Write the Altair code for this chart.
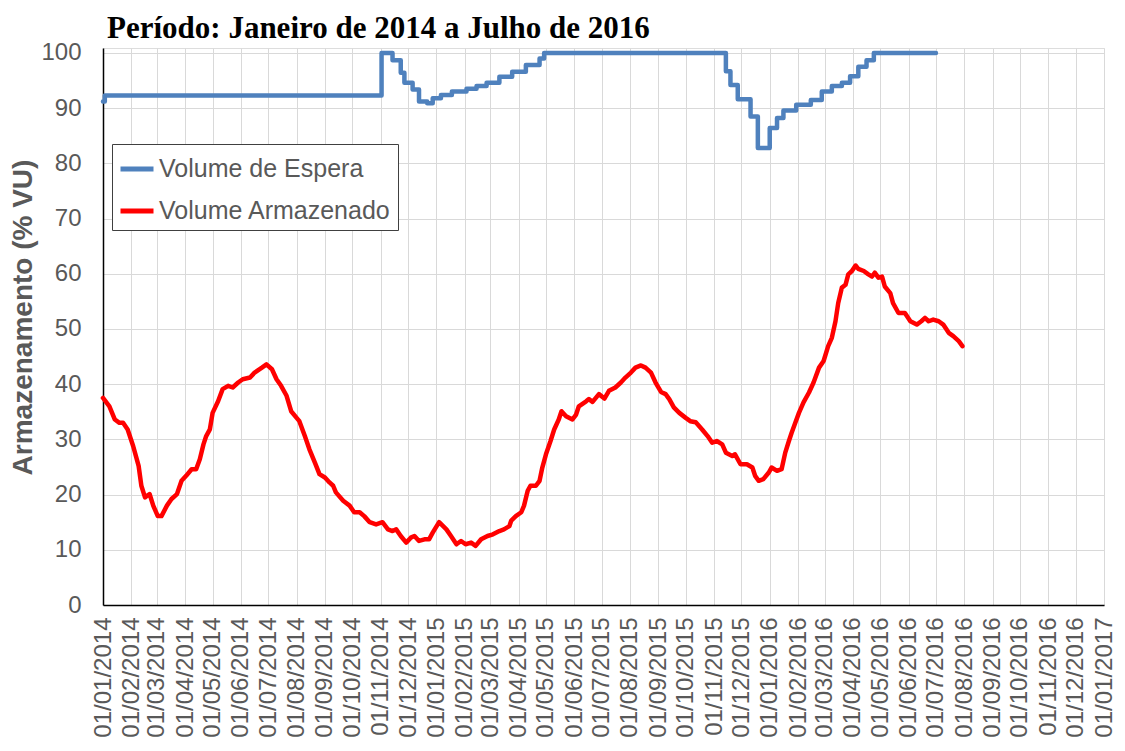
import altair as alt
import pandas as pd

# ---------------- data ----------------
espera_datas = [
    "2014-01-01", "2014-01-03", "2014-11-02", "2014-11-14", "2014-11-23", "2014-11-27",
    "2014-12-06", "2014-12-13", "2014-12-22", "2014-12-28", "2015-01-06", "2015-01-18",
    "2015-02-03", "2015-02-14", "2015-02-25", "2015-03-11", "2015-03-25", "2015-04-09",
    "2015-04-24", "2015-04-29", "2015-11-14", "2015-11-19", "2015-11-27", "2015-12-11",
    "2015-12-19", "2016-01-01", "2016-01-09", "2016-01-16", "2016-01-30", "2016-02-15",
    "2016-02-27", "2016-03-09", "2016-03-20", "2016-03-29", "2016-04-07", "2016-04-16",
    "2016-04-24", "2016-07-01",
]
espera_valores = [
    91.2, 92.3, 100.0, 98.7, 96.4, 94.6,
    93.4, 91.2, 90.9, 91.8, 92.4, 93.0,
    93.5, 94.0, 94.6, 95.7, 96.6, 97.8,
    99.0, 100.0, 96.7, 94.2, 91.6, 88.5,
    82.8, 86.4, 88.2, 89.6, 90.6, 91.5,
    93.0, 94.0, 94.6, 95.8, 97.5, 98.7,
    100.0, 100.0,
]

armaz_datas = [
    "2014-01-01", "2014-01-08", "2014-01-14", "2014-01-19", "2014-01-23", "2014-01-28",
    "2014-02-03", "2014-02-09", "2014-02-12", "2014-02-16", "2014-02-21", "2014-02-25",
    "2014-03-02", "2014-03-06", "2014-03-12", "2014-03-17", "2014-03-23", "2014-03-28",
    "2014-04-02", "2014-04-08", "2014-04-13", "2014-04-17", "2014-04-21", "2014-04-24",
    "2014-04-28", "2014-05-01", "2014-05-07", "2014-05-12", "2014-05-18", "2014-05-23",
    "2014-05-29", "2014-06-03", "2014-06-11", "2014-06-16", "2014-06-24", "2014-06-29",
    "2014-07-05", "2014-07-10", "2014-07-15", "2014-07-21", "2014-07-26", "2014-08-01",
    "2014-08-04", "2014-08-10", "2014-08-15", "2014-08-21", "2014-08-26", "2014-09-01",
    "2014-09-06", "2014-09-10", "2014-09-13", "2014-09-21", "2014-09-28", "2014-10-03",
    "2014-10-09", "2014-10-14", "2014-10-20", "2014-10-27", "2014-11-03", "2014-11-09",
    "2014-11-14", "2014-11-18", "2014-11-23", "2014-11-29", "2014-12-04", "2014-12-08",
    "2014-12-13", "2014-12-19", "2014-12-24", "2014-12-28", "2015-01-04", "2015-01-12",
    "2015-01-17", "2015-01-23", "2015-01-28", "2015-02-02", "2015-02-08", "2015-02-13",
    "2015-02-19", "2015-02-26", "2015-03-04", "2015-03-11", "2015-03-16", "2015-03-22",
    "2015-03-24", "2015-03-29", "2015-04-04", "2015-04-07", "2015-04-11", "2015-04-14",
    "2015-04-20", "2015-04-24", "2015-04-27", "2015-05-01", "2015-05-06", "2015-05-10",
    "2015-05-15", "2015-05-18", "2015-05-23", "2015-05-30", "2015-06-03", "2015-06-06",
    "2015-06-14", "2015-06-17", "2015-06-21", "2015-06-28", "2015-07-04", "2015-07-09",
    "2015-07-16", "2015-07-22", "2015-07-27", "2015-08-02", "2015-08-07", "2015-08-13",
    "2015-08-18", "2015-08-24", "2015-08-29", "2015-09-04", "2015-09-09", "2015-09-13",
    "2015-09-18", "2015-09-24", "2015-10-01", "2015-10-06", "2015-10-12", "2015-10-19",
    "2015-10-25", "2015-10-30", "2015-11-04", "2015-11-10", "2015-11-14", "2015-11-21",
    "2015-11-24", "2015-11-30", "2015-12-07", "2015-12-13", "2015-12-16", "2015-12-20",
    "2015-12-25", "2015-12-31", "2016-01-03", "2016-01-09", "2016-01-14", "2016-01-18",
    "2016-01-22", "2016-01-25", "2016-01-29", "2016-02-02", "2016-02-07", "2016-02-13",
    "2016-02-18", "2016-02-24", "2016-02-29", "2016-03-05", "2016-03-09", "2016-03-13",
    "2016-03-16", "2016-03-20", "2016-03-24", "2016-03-27", "2016-03-31", "2016-04-04",
    "2016-04-07", "2016-04-13", "2016-04-18", "2016-04-22", "2016-04-25", "2016-04-29",
    "2016-05-03", "2016-05-06", "2016-05-12", "2016-05-15", "2016-05-21", "2016-05-28",
    "2016-06-03", "2016-06-10", "2016-06-15", "2016-06-19", "2016-06-23", "2016-06-28",
    "2016-07-04", "2016-07-09", "2016-07-15", "2016-07-20", "2016-07-26", "2016-07-30",
]
armaz_valores = [
    37.5, 36.0, 33.6, 33.0, 33.0, 31.8,
    28.8, 25.2, 21.6, 19.5, 20.1, 18.0,
    16.1, 16.1, 18.0, 19.2, 20.1, 22.5,
    23.4, 24.6, 24.6, 26.4, 29.1, 30.6,
    31.8, 34.8, 36.9, 39.1, 39.7, 39.4,
    40.3, 40.9, 41.2, 42.1, 43.0, 43.6,
    42.7, 40.9, 39.7, 37.9, 35.1, 33.9,
    33.3, 30.6, 28.2, 25.8, 23.7, 23.1,
    22.2, 21.6, 20.4, 18.9, 18.0, 16.8,
    16.8, 16.1, 15.0, 14.6, 15.0, 13.7,
    13.4, 13.7, 12.5, 11.3, 12.2, 12.5,
    11.6, 11.9, 11.9, 13.1, 15.0, 13.7,
    12.5, 11.0, 11.6, 11.0, 11.3, 10.7,
    11.9, 12.5, 12.8, 13.4, 13.7, 14.3,
    15.3, 16.1, 16.8, 18.0, 20.7, 21.6,
    21.6, 22.5, 24.9, 27.3, 29.7, 31.8,
    33.6, 35.1, 34.2, 33.6, 34.5, 36.0,
    36.9, 37.3, 36.8, 38.2, 37.4, 38.8,
    39.4, 40.3, 41.2, 42.1, 43.0, 43.4,
    43.0, 42.1, 40.3, 38.6, 38.2, 37.3,
    35.8, 34.8, 33.9, 33.3, 33.1, 31.8,
    30.6, 29.4, 29.7, 29.1, 27.6, 27.0,
    27.3, 25.5, 25.5, 24.9, 23.4, 22.5,
    22.8, 24.0, 24.9, 24.3, 24.6, 27.6,
    29.7, 31.2, 33.0, 34.8, 36.7, 38.5,
    40.3, 43.0, 44.2, 46.9, 48.4, 51.4,
    54.7, 57.5, 58.0, 59.9, 60.5, 61.5,
    60.9, 60.5, 59.9, 59.5, 60.2, 59.3,
    59.5, 57.7, 56.5, 54.7, 52.9, 52.9,
    51.4, 50.8, 51.4, 52.0, 51.4, 51.7,
    51.4, 50.8, 49.3, 48.7, 47.8, 46.9,
]

series_nomes = ["Volume de Espera", "Volume Armazenado"]
series_cores = ["#4F81BD", "#FF0000"]
anos_eixo = [2014, 2015, 2016]
y_ticks = [0, 10, 20, 30, 40, 50, 60, 70, 80, 90, 100]
titulo = "Período: Janeiro de 2014 a Julho de 2016"
titulo_y = "Armazenamento (% VU)"

# ---------------- tables ----------------
df_espera = pd.DataFrame({"data": espera_datas, "valor": espera_valores,
                          "serie": series_nomes[0]})
df_armaz = pd.DataFrame({"data": armaz_datas, "valor": armaz_valores,
                         "serie": series_nomes[1]})
df_titulo = pd.DataFrame({"t": [titulo]})

x_ticks = [alt.DateTime(year=a, month=m, date=1, utc=True)
           for a in anos_eixo for m in range(1, 13)]
x_ticks.append(alt.DateTime(year=2017, month=1, date=1, utc=True))

GRAY = "#595959"

x_enc = alt.X(
    "data:T",
    scale=alt.Scale(
        type="utc",
        domain=[alt.DateTime(year=2014, month=1, date=1, utc=True),
                alt.DateTime(year=2017, month=1, date=1, utc=True)],
    ),
    axis=alt.Axis(
        title=None,
        values=x_ticks,
        format="%d/%m/%Y",
        labelAngle=270,
        labelFontSize=24,
        labelColor=GRAY,
        labelFont="Liberation Sans",
        labelPadding=12,
        labelOverlap=False,
        labelFlush=False,
        ticks=False,
        tickSize=0,
        domainColor="black",
        domainWidth=1.5,
        gridColor="#D9D9D9",
        gridWidth=1,
    ),
)

y_enc = alt.Y(
    "valor:Q",
    scale=alt.Scale(domain=[0, 100.9], nice=False),
    axis=alt.Axis(
        title=titulo_y,
        values=y_ticks,
        labelFontSize=24,
        labelColor=GRAY,
        labelFont="Liberation Sans",
        labelPadding=22,
        ticks=False,
        tickSize=0,
        domainColor="black",
        domainWidth=1.5,
        gridColor="#D9D9D9",
        gridWidth=1,
        titleFont="Liberation Sans",
        titleFontSize=28,
        titleFontWeight="bold",
        titleColor=GRAY,
        titleAngle=270,
        titleBaseline="alphabetic",
        titleAlign="center",
        titleX=-72,
        titleY=269,
    ),
)

color_enc = alt.Color(
    "serie:N",
    scale=alt.Scale(domain=series_nomes, range=series_cores),
    legend=alt.Legend(
        title=None,
        orient="none",
        legendX=9,
        legendY=96,
        symbolType="stroke",
        symbolSize=1089,
        symbolStrokeWidth=5,
        labelFontSize=25,
        labelFont="Liberation Sans",
        labelColor=GRAY,
        labelOffset=3,
        labelLimit=500,
        rowPadding=10,
        padding=6,
        strokeColor="#404040",
        fillColor="white",
    ),
)

linha_espera = alt.Chart(df_espera).mark_line(
    interpolate="step-after", strokeWidth=4.5, strokeJoin="round", strokeCap="round"
).encode(x=x_enc, y=y_enc, color=color_enc)

linha_armaz = alt.Chart(df_armaz).mark_line(
    strokeWidth=4.5, strokeJoin="round", strokeCap="round"
).encode(x=x_enc, y=y_enc, color=color_enc)

titulo_txt = alt.Chart(df_titulo).mark_text(
    align="left",
    baseline="alphabetic",
    font="Liberation Serif",
    fontSize=31,
    fontWeight="bold",
    color="black",
).encode(x=alt.value(4), y=alt.value(-10), text="t:N")

chart = alt.layer(linha_espera, linha_armaz, titulo_txt).properties(
    width=1001,
    height=557,
    padding={"left": 95, "top": 40, "right": 13, "bottom": 143},
    autosize=alt.AutoSizeParams(type="none"),
).configure_view(
    stroke="black", strokeWidth=1.5
).configure(background="white")

chart.save("out.html", embed_options={"renderer": "svg", "actions": False})
